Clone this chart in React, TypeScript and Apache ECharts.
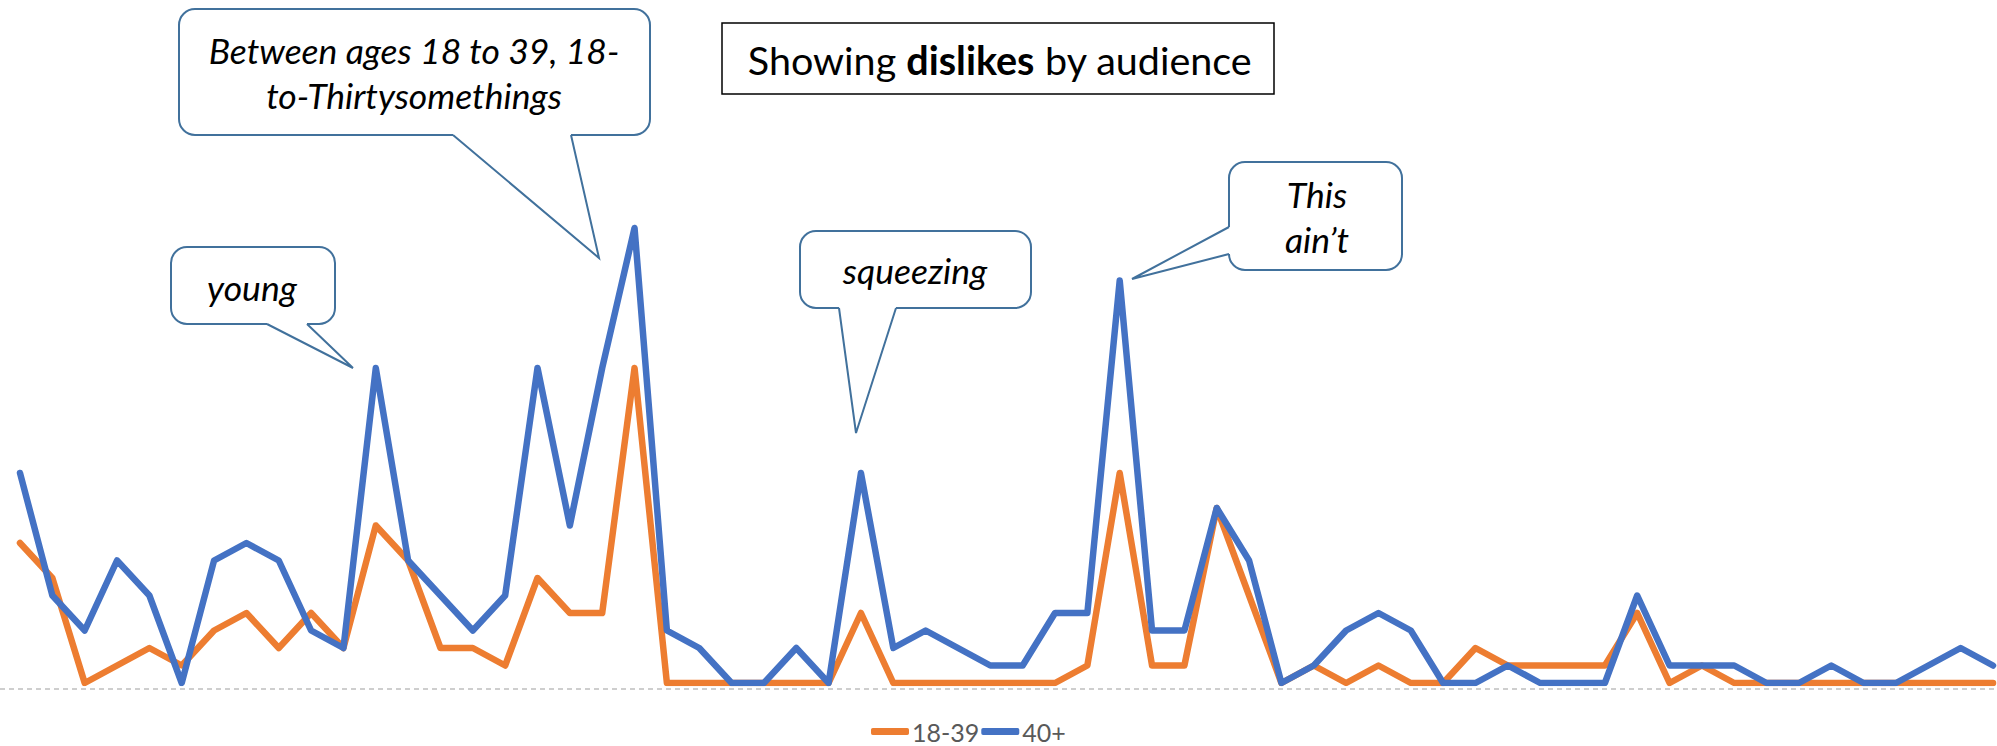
import React, { useEffect, useRef } from "react";
import * as echarts from "echarts";

const categories = [
  "1", "2", "3", "4", "5", "6", "7", "8", "9", "10",
  "11", "12", "13", "14", "15", "16", "17", "18", "19", "20",
  "21", "22", "23", "24", "25", "26", "27", "28", "29", "30",
  "31", "32", "33", "34", "35", "36", "37", "38", "39", "40",
  "41", "42", "43", "44", "45", "46", "47", "48", "49", "50",
  "51", "52", "53", "54", "55", "56", "57", "58", "59", "60",
  "61", "62",
];

const seriesNames = ["18-39", "40+"];

const young = [
  8, 6, 0, 1, 2, 1, 3, 4, 2, 4, 2, 9, 7, 2, 2, 1, 6, 4, 4, 18,
  0, 0, 0, 0, 0, 0, 4, 0, 0, 0, 0, 0, 0, 1, 12, 1, 1, 10, 5, 0,
  1, 0, 1, 0, 0, 2, 1, 1, 1, 1, 4, 0, 1, 0, 0, 0, 0, 0, 0, 0, 0, 0,
];

const older = [
  12, 5, 3, 7, 5, 0, 7, 8, 7, 3, 2, 18, 7, 5, 3, 5, 18, 9, 18, 26,
  3, 2, 0, 0, 2, 0, 12, 2, 3, 2, 1, 1, 4, 4, 23, 3, 3, 10, 7, 0,
  1, 3, 4, 3, 0, 0, 1, 0, 0, 0, 5, 1, 1, 1, 0, 0, 1, 0, 0, 1, 2, 1,
];

const titleParts = ["Showing ", "dislikes", " by audience"];
const calloutTexts = [
  "Between ages 18 to 39, 18-\nto-Thirtysomethings",
  "young",
  "squeezing",
  "This\nain\u2019t",
];

const ORANGE = "#ED7D31";
const BLUE = "#4472C4";
const CALLOUT = "#41719C";
const FONT = "Lato, Carlito, 'Open Sans', sans-serif";

type Pt = [number, number];

function callout(
  box: { x: number; y: number; w: number; h: number },
  base1: Pt,
  tip: Pt,
  base2: Pt,
  inward: Pt,
  text: string,
  textPos: Pt
) {
  const fillPts: Pt[] = [
    [base1[0] + inward[0], base1[1] + inward[1]],
    base1,
    tip,
    base2,
    [base2[0] + inward[0], base2[1] + inward[1]],
  ];
  return [
    {
      type: "rect",
      z: 100,
      shape: { x: box.x, y: box.y, width: box.w, height: box.h, r: 16 },
      style: { fill: "#ffffff", stroke: CALLOUT, lineWidth: 2 },
    },
    {
      type: "polygon",
      z: 101,
      shape: { points: fillPts },
      style: { fill: "#ffffff", stroke: "none" },
    },
    {
      type: "polyline",
      z: 102,
      shape: { points: [base1, tip, base2] },
      style: { stroke: CALLOUT, lineWidth: 2, fill: "none" },
    },
    {
      type: "text",
      z: 103,
      x: textPos[0],
      y: textPos[1],
      style: {
        text,
        fill: "#000000",
        fontSize: 35.5,
        fontStyle: "italic",
        fontFamily: FONT,
        align: "center",
        verticalAlign: "middle",
        lineHeight: 45,
      },
    },
  ];
}

export default function App() {
  const ref = useRef<HTMLDivElement>(null);

  useEffect(() => {
    if (!ref.current) return;
    const chart = echarts.init(ref.current, null, { renderer: "svg" });

    const graphic: any[] = [
      {
        type: "line",
        z: 0,
        shape: { x1: 0, y1: 689, x2: 1997, y2: 689 },
        style: { stroke: "#BFBFBF", lineWidth: 1.5, lineDash: [5, 4] },
      },
      {
        type: "rect",
        z: 100,
        shape: { x: 722, y: 23, width: 552, height: 71 },
        style: { fill: "#ffffff", stroke: "#000000", lineWidth: 1.5 },
      },
      {
        type: "text",
        z: 101,
        x: 1000,
        y: 59,
        style: {
          text: `{a|${titleParts[0]}}{b|${titleParts[1]}}{a|${titleParts[2]}}`,
          align: "center",
          verticalAlign: "middle",
          rich: {
            a: { fontSize: 39.5, fontFamily: FONT, fill: "#000000" },
            b: { fontSize: 39.5, fontFamily: FONT, fontWeight: "bold", fill: "#000000" },
          },
        },
      },
      ...callout(
        { x: 179, y: 9, w: 471, h: 126 },
        [453, 135],
        [599, 258],
        [571, 135],
        [0, -3],
        calloutTexts[0],
        [414, 73]
      ),
      ...callout(
        { x: 171, y: 247, w: 164, h: 77 },
        [267, 324],
        [353, 368],
        [307, 324],
        [0, -3],
        calloutTexts[1],
        [252, 287]
      ),
      ...callout(
        { x: 800, y: 231, w: 231, h: 77 },
        [839, 308],
        [856, 433],
        [896, 308],
        [0, -3],
        calloutTexts[2],
        [915, 270]
      ),
      ...callout(
        { x: 1229, y: 162, w: 173, h: 108 },
        [1229, 227],
        [1132, 279],
        [1229, 254],
        [3, 0],
        calloutTexts[3],
        [1317, 217]
      ),
    ];

    chart.setOption({
      animation: false,
      backgroundColor: "#ffffff",
      grid: { left: 20, right: 4, top: 158, bottom: 63, containLabel: false },
      xAxis: {
        type: "category",
        data: categories,
        boundaryGap: false,
        axisLine: { show: false },
        axisTick: { show: false },
        axisLabel: { show: false },
        splitLine: { show: false },
      },
      yAxis: {
        type: "value",
        min: 0,
        max: 30,
        axisLine: { show: false },
        axisTick: { show: false },
        axisLabel: { show: false },
        splitLine: { show: false },
      },
      legend: {
        data: seriesNames,
        left: 866,
        top: 714,
        itemWidth: 38,
        itemHeight: 7,
        itemGap: 2,
        icon: "roundRect",
        textStyle: { color: "#595959", fontSize: 25, fontFamily: FONT, padding: [0, 0, 0, -2] },
      },
      series: [
        {
          name: seriesNames[0],
          type: "line",
          data: young,
          showSymbol: false,
          symbol: "none",
          color: ORANGE,
          lineStyle: { color: ORANGE, width: 6.5, cap: "round", join: "round" },
          z: 2,
        },
        {
          name: seriesNames[1],
          type: "line",
          data: older,
          showSymbol: false,
          symbol: "none",
          color: BLUE,
          lineStyle: { color: BLUE, width: 6.5, cap: "round", join: "round" },
          z: 3,
        },
      ],
      graphic,
    });

    return () => chart.dispose();
  }, []);

  return (
    <div
      ref={ref}
      style={{ position: "fixed", left: 0, top: 0, width: 1997, height: 746, background: "#fff" }}
    />
  );
}
